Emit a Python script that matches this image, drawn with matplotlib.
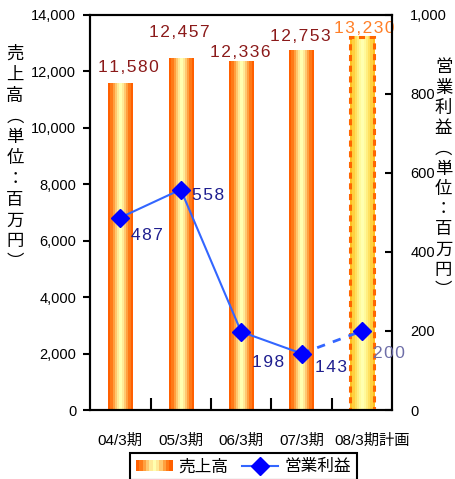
"""Sales (bars, left axis) and operating profit (line, right axis) by fiscal year."""

import matplotlib

matplotlib.use("Agg")
import matplotlib.pyplot as plt
import matplotlib.transforms as mtransforms
import numpy as np
from matplotlib.colors import LinearSegmentedColormap
from matplotlib.legend_handler import HandlerBase
from matplotlib.lines import Line2D
from matplotlib.patches import Rectangle
from matplotlib.ticker import FuncFormatter, MultipleLocator

plt.rcParams["font.family"] = ["Liberation Sans", "Noto Sans CJK JP", "DejaVu Sans"]

# --- data -----------------------------------------------------------------
periods = ["04/3期", "05/3期", "06/3期", "07/3期", "08/3期計画"]
sales = [11580, 12457, 12336, 12753, 13230]          # 売上高 (百万円)
op_profit = [487, 558, 198, 143, 200]                 # 営業利益 (百万円)
is_plan = [False, False, False, False, True]

# label placement (offset points from the mark), kept apart from the data
sales_label_off = [(6, 11), (-1, 19), (-1, 6.5), (-1, 9.5), (1.5, 6)]
profit_label_off = [(19, -13), (19.5, -4.5), (19.5, -22), (21, -10), (19.5, -16.5)]

# --- styles ---------------------------------------------------------------
actual_stripes = ["#FF6000", "#FF7A18", "#FFA040", "#FFC870", "#FFEA98", "#FFFFB0",
                  "#FFEA98", "#FFC870", "#FFA040", "#FF7A18", "#FF6000"]
plan_stripes = ["#FFC020", "#FFD040", "#FFE060", "#FFEE80", "#FFFA9C", "#FFFFB0",
                "#FFFA9C", "#FFEE80", "#FFE060", "#FFD040", "#FFC020"]
sales_txt = "#8B1A1A"
plan_txt = "#FF7F27"
profit_txt = "#1F1F8F"
profit_plan_txt = "#6E6EA8"
line_col = "#3366FF"
marker_col = "#0000FF"


def spaced(s):
    # the original labels are drawn with a little letter spacing
    return "\u200a".join(s)


class StripeHandler(HandlerBase):
    def create_artists(self, legend, orig_handle, xdescent, ydescent,
                       width, height, fontsize, trans):
        n = len(actual_stripes)
        return [Rectangle((-xdescent + i * width / n, -ydescent), width / n, height,
                          facecolor=c, edgecolor="none", transform=trans)
                for i, c in enumerate(actual_stripes)]


fig = plt.figure(figsize=(4.55, 4.79), dpi=100)
ax = fig.add_axes([0.198, 0.144, 0.664, 0.825])
ax2 = ax.twinx()

x = np.arange(len(periods))
bars = ax.bar(x, sales, width=0.4, facecolor="none", edgecolor="none", zorder=2)
for rect, plan in zip(bars, is_plan):
    stripes = plan_stripes if plan else actual_stripes
    cmap = LinearSegmentedColormap.from_list("s", stripes, N=len(stripes))
    x0, w, h = rect.get_x(), rect.get_width(), rect.get_height()
    ax.imshow(np.linspace(0, 1, len(stripes))[np.newaxis, :], cmap=cmap,
              extent=[x0, x0 + w, 0, h], aspect="auto", interpolation="nearest",
              zorder=2)
    if plan:
        ax.add_patch(Rectangle((x0, 0), w, h, facecolor="none", edgecolor="#FF6600",
                               linewidth=2.2, linestyle=(0, (2, 1.5)), zorder=3))

for xi, v, plan, off in zip(x, sales, is_plan, sales_label_off):
    ax.annotate(spaced(f"{v:,}"), (xi, v), xytext=off, textcoords="offset points",
                ha="center", va="center", fontsize=12.5,
                color=plan_txt if plan else sales_txt)

# operating profit line: solid for actuals, dashed into the plan year
n_act = is_plan.index(True)
ax2.plot(x[:n_act], op_profit[:n_act], color=line_col, lw=1.5, zorder=4)
ax2.plot(x[n_act - 1:n_act + 1], op_profit[n_act - 1:n_act + 1], color=line_col,
         lw=2, linestyle=(0, (3, 3)), zorder=4)
ax2.plot(x, op_profit, linestyle="none", marker="D", markersize=9,
         color=marker_col, zorder=5)
for xi, v, plan, off in zip(x, op_profit, is_plan, profit_label_off):
    ax2.annotate(spaced(f"{v}"), (xi, v), xytext=off, textcoords="offset points",
                 ha="center", va="center", fontsize=12.5,
                 color=profit_plan_txt if plan else profit_txt)

# axes
ax.set_xlim(-0.5, len(periods) - 0.5)
ax.set_ylim(0, 14000)
ax2.set_ylim(0, 1000)
ax.yaxis.set_major_locator(MultipleLocator(2000))
ax.yaxis.set_major_formatter(FuncFormatter(lambda v, _: f"{int(v):,}"))
ax2.yaxis.set_major_locator(MultipleLocator(200))
ax2.yaxis.set_major_formatter(FuncFormatter(lambda v, _: f"{int(v):,}"))
ax.set_xticks(x)
ax.set_xticklabels(periods)
ax.set_xticks(x[:-1] + 0.5, minor=True)
ax.tick_params(axis="x", which="major", length=0, pad=17, labelsize=11)
ax.tick_params(axis="x", which="minor", direction="in", length=9, width=1.5)
ax.tick_params(axis="y", direction="out", length=5, width=1.5, pad=5, labelsize=10.5)
ax2.tick_params(axis="y", direction="in", length=5, width=1.5, pad=13, labelsize=10.5)
for a in (ax, ax2):
    for s in a.spines.values():
        s.set_linewidth(1.5)
# the long plan label is nudged right in the original to clear its neighbour
last = ax.get_xticklabels()[-1]
last.set_transform(last.get_transform()
                   + mtransforms.ScaledTranslation(0.1, 0, fig.dpi_scale_trans))

# vertical Japanese axis titles
fig.text(0.033, 0.670, "\n".join("売上高︵単位：百万円︶"), ha="center", va="center",
         fontsize=12.5, linespacing=1.2, family=["Noto Sans CJK JP"])
fig.text(0.975, 0.627, "\n".join("営業利益︵単位：百万円︶"), ha="center", va="center",
         fontsize=12.5, linespacing=1.16, family=["Noto Sans CJK JP"])

handles = [Rectangle((0, 0), 1, 1),
           Line2D([], [], color=line_col, lw=1.5, marker="D", markersize=9,
                  markerfacecolor=marker_col, markeredgecolor=marker_col)]
leg = fig.legend(handles, ["売上高", "営業利益"], loc="lower center",
                 bbox_to_anchor=(0.535, -0.02), ncol=2, fontsize=12,
                 handler_map={Rectangle: StripeHandler()}, handlelength=2.2,
                 fancybox=False, framealpha=1, edgecolor="black",
                 borderpad=0.35, columnspacing=0.8, handletextpad=0.35)
leg.get_frame().set_linewidth(1.5)

fig.savefig("out.png", dpi=100)
